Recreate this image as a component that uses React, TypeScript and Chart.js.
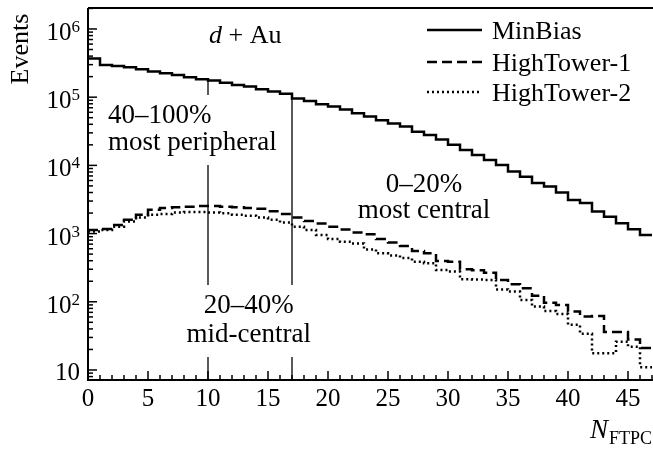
import React, { useEffect, useRef } from "react";
import { Chart, registerables } from "chart.js";

Chart.register(...registerables);

// ---- data (events per N_FTPC bin, bins of width 1 starting at 0) ----
const minBias = [
  3.7e5, 2.97e5, 2.86e5, 2.74e5, 2.56e5, 2.37e5, 2.24e5, 2.12e5, 1.96e5, 1.83e5,
  1.75e5, 1.63e5, 1.51e5, 1.43e5, 1.31e5, 1.21e5, 1.12e5, 9.6e4, 8.8e4, 7.9e4,
  7.3e4, 6.6e4, 5.8e4, 5.2e4, 4.6e4, 4.1e4, 3.7e4, 3.1e4, 2.8e4, 2.4e4,
  2.0e4, 1.68e4, 1.42e4, 1.2e4, 1.01e4, 8.1e3, 6.8e3, 5.5e3, 4.9e3, 4.0e3,
  3.1e3, 2.8e3, 2.1e3, 1.77e3, 1.42e3, 1.16e3, 9.5e2,
];
const highTower1 = [
  1130, 1170, 1340, 1590, 1890, 2240, 2370, 2430, 2480, 2540,
  2540, 2480, 2430, 2370, 2320, 2120, 1930, 1720, 1530, 1410,
  1260, 1150, 1040, 975, 832, 742, 656, 555, 513, 396,
  387, 299, 289, 267, 209, 180, 158, 123, 97, 90,
  72, 61, 62, 36, 36, 28, 21,
];
const highTower2 = [
  1070, 1130, 1260, 1500, 1720, 1890, 1930, 2040, 2070, 2070,
  2040, 1990, 1890, 1830, 1720, 1590, 1450, 1260, 1130, 955,
  832, 760, 716, 586, 513, 479, 437, 387, 367, 292,
  277, 214, 212, 209, 152, 141, 106, 85, 73, 66,
  46, 34, 17.6, 17.6, 26, 22, 11,
];
const seriesLabels = ["MinBias", "HighTower-1", "HighTower-2"];
const xTickLabels = ["0", "5", "10", "15", "20", "25", "30", "35", "40", "45"];
const yTickExponents = [1, 2, 3, 4, 5, 6];
const centralityEdges = [10, 17];

const FONT = '"Liberation Serif", "DejaVu Serif", serif';
const dashes: number[][] = [[], [10, 5], [2, 3]];

const annotations = [
  { lines: ["40–100%", "most peripheral"], x: 1.67, y: [4.2e4, 1.68e4], align: "left" },
  { lines: ["0–20%", "most central"], x: 28, y: [4.1e3, 1.69e3], align: "center" },
  { lines: ["20–40%", "mid-central"], x: 13.4, y: [68.6, 25.7], align: "center" },
];

function toSteps(values: number[]) {
  const pts = values.map((v, i) => ({ x: i, y: v }));
  pts.push({ x: values.length, y: values[values.length - 1] });
  return pts;
}

const overlay = {
  id: "overlay",
  afterDatasetsDraw(chart: any) {
    const { ctx, chartArea: ca } = chart;
    const xs = chart.scales.x;
    const ys = chart.scales.y;
    ctx.save();
    ctx.fillStyle = "#000";
    ctx.strokeStyle = "#000";

    // annotation texts and their boxes
    const boxes: { l: number; r: number; t: number; b: number }[] = [];
    const annSize = 27;
    ctx.font = `${annSize}px ${FONT}`;
    ctx.textBaseline = "alphabetic";
    annotations.forEach((a) => {
      const px = xs.getPixelForValue(a.x);
      let l = Infinity, r = -Infinity, t = Infinity, b = -Infinity;
      a.lines.forEach((txt, i) => {
        const py = ys.getPixelForValue(a.y[i]);
        const w = ctx.measureText(txt).width;
        const left = a.align === "left" ? px : px - w / 2;
        ctx.textAlign = "left";
        ctx.fillText(txt, left, py);
        l = Math.min(l, left);
        r = Math.max(r, left + w);
        t = Math.min(t, py - annSize * 0.7);
        b = Math.max(b, py + annSize * 0.22);
      });
      boxes.push({ l, r, t, b });
    });

    // centrality boundary lines with gaps around texts
    ctx.lineWidth = 1.3;
    centralityEdges.forEach((edge) => {
      const px = xs.getPixelForValue(edge);
      const top = ys.getPixelForValue(minBias[edge]);
      let segs: [number, number][] = [[top, ca.bottom]];
      boxes.forEach((bx) => {
        if (px >= bx.l - 2 && px <= bx.r + 2) {
          const g0 = bx.t - 9, g1 = bx.b + 9;
          const next: [number, number][] = [];
          segs.forEach(([s0, s1]) => {
            if (g1 <= s0 || g0 >= s1) next.push([s0, s1]);
            else {
              if (g0 > s0) next.push([s0, g0]);
              if (g1 < s1) next.push([g1, s1]);
            }
          });
          segs = next;
        }
      });
      segs.forEach(([s0, s1]) => {
        ctx.beginPath();
        ctx.moveTo(px, s0);
        ctx.lineTo(px, s1);
        ctx.stroke();
      });
    });

    // "d + Au"
    {
      const size = 26;
      ctx.font = `italic ${size}px ${FONT}`;
      const wd = ctx.measureText("d").width;
      ctx.font = `${size}px ${FONT}`;
      const rest = " + Au";
      const wr = ctx.measureText(rest).width;
      const cx = xs.getPixelForValue(13.1);
      const by = ys.getPixelForValue(6.24e5);
      const left = cx - (wd + wr) / 2;
      ctx.textAlign = "left";
      ctx.font = `italic ${size}px ${FONT}`;
      ctx.fillText("d", left, by);
      ctx.font = `${size}px ${FONT}`;
      ctx.fillText(rest, left + wd, by);
    }

    // frame
    ctx.lineWidth = 2;
    ctx.beginPath();
    ctx.moveTo(ca.left, ca.top);
    ctx.lineTo(chart.width, ca.top);
    ctx.moveTo(ca.left, ca.top);
    ctx.lineTo(ca.left, ca.bottom);
    ctx.lineTo(chart.width, ca.bottom);
    ctx.stroke();

    // y ticks (inward) and labels
    ctx.lineWidth = 1.5;
    const yMin = ys.min, yMax = ys.max;
    for (let d = 0; d <= 6; d++) {
      for (let m = 1; m <= 9; m++) {
        const v = m * Math.pow(10, d);
        if (v < yMin || v > yMax) continue;
        const py = ys.getPixelForValue(v);
        const len = m === 1 ? 9 : 5;
        ctx.beginPath();
        ctx.moveTo(ca.left, py);
        ctx.lineTo(ca.left + len, py);
        ctx.stroke();
      }
    }
    yTickExponents.forEach((e) => {
      const py = ys.getPixelForValue(Math.pow(10, e));
      const right = ca.left - 8;
      ctx.textBaseline = "alphabetic";
      if (e === 1) {
        ctx.font = `25px ${FONT}`;
        ctx.textAlign = "right";
        ctx.fillText("10", right, py + 10);
      } else {
        ctx.font = `17px ${FONT}`;
        const ew = ctx.measureText(String(e)).width;
        ctx.textAlign = "left";
        ctx.fillText(String(e), right - ew, py + 3);
        ctx.font = `25px ${FONT}`;
        ctx.textAlign = "right";
        ctx.fillText("10", right - ew, py + 11);
      }
    });

    // x ticks (inward) and labels
    for (let i = 0; i <= 47; i++) {
      const px = xs.getPixelForValue(i);
      const len = i % 5 === 0 ? 9 : 5;
      ctx.beginPath();
      ctx.moveTo(px, ca.bottom);
      ctx.lineTo(px, ca.bottom - len);
      ctx.stroke();
    }
    ctx.font = `25px ${FONT}`;
    ctx.textAlign = "center";
    xTickLabels.forEach((lab) => {
      const px = xs.getPixelForValue(Number(lab));
      ctx.fillText(lab, px, ca.bottom + 26);
    });

    // x title: N_FTPC
    {
      ctx.font = `18px ${FONT}`;
      ctx.textAlign = "right";
      const sub = "FTPC";
      const sw = ctx.measureText(sub).width;
      ctx.fillText(sub, chart.width - 1, 444);
      ctx.font = `italic 27px ${FONT}`;
      ctx.fillText("N", chart.width - 1 - sw - 1, 438);
    }

    // y title
    ctx.save();
    ctx.translate(28, 49);
    ctx.rotate(-Math.PI / 2);
    ctx.font = `26px ${FONT}`;
    ctx.textAlign = "center";
    ctx.fillText("Events", 0, 0);
    ctx.restore();

    // legend
    const legY = [30, 62, 92];
    seriesLabels.forEach((lab, i) => {
      ctx.lineWidth = 2.5;
      ctx.setLineDash(dashes[i]);
      ctx.beginPath();
      ctx.moveTo(427, legY[i]);
      ctx.lineTo(482, legY[i]);
      ctx.stroke();
      ctx.setLineDash([]);
      ctx.font = `26px ${FONT}`;
      ctx.textAlign = "left";
      ctx.fillText(lab, 492, legY[i] + 8.5);
    });

    ctx.restore();
  },
};

export default function App() {
  const ref = useRef<HTMLCanvasElement | null>(null);
  useEffect(() => {
    document.body.style.margin = "0";
    const canvas = ref.current!;
    const series = [minBias, highTower1, highTower2];
    const chart = new Chart(canvas, {
      type: "line",
      data: {
        datasets: series.map((vals, i) => ({
          label: seriesLabels[i],
          data: toSteps(vals),
          stepped: true,
          borderColor: "#000",
          borderWidth: 2.5,
          borderDash: dashes[i],
          borderCapStyle: "butt",
          fill: false,
          pointRadius: 0,
        })),
      },
      options: {
        animation: false,
        responsive: false,
        devicePixelRatio: 1,
        layout: { padding: { left: 88, right: 1, top: 8, bottom: 69 } },
        plugins: { legend: { display: false }, tooltip: { enabled: false } },
        scales: {
          x: { type: "linear", min: 0, max: 47, display: false },
          y: { type: "logarithmic", min: 7.13, max: 2.03e6, display: false },
        },
      },
      plugins: [overlay],
    } as any);
    return () => chart.destroy();
  }, []);
  return (
    <div style={{ width: 653, height: 449, background: "#fff" }}>
      <canvas ref={ref} width={653} height={449} />
    </div>
  );
}
